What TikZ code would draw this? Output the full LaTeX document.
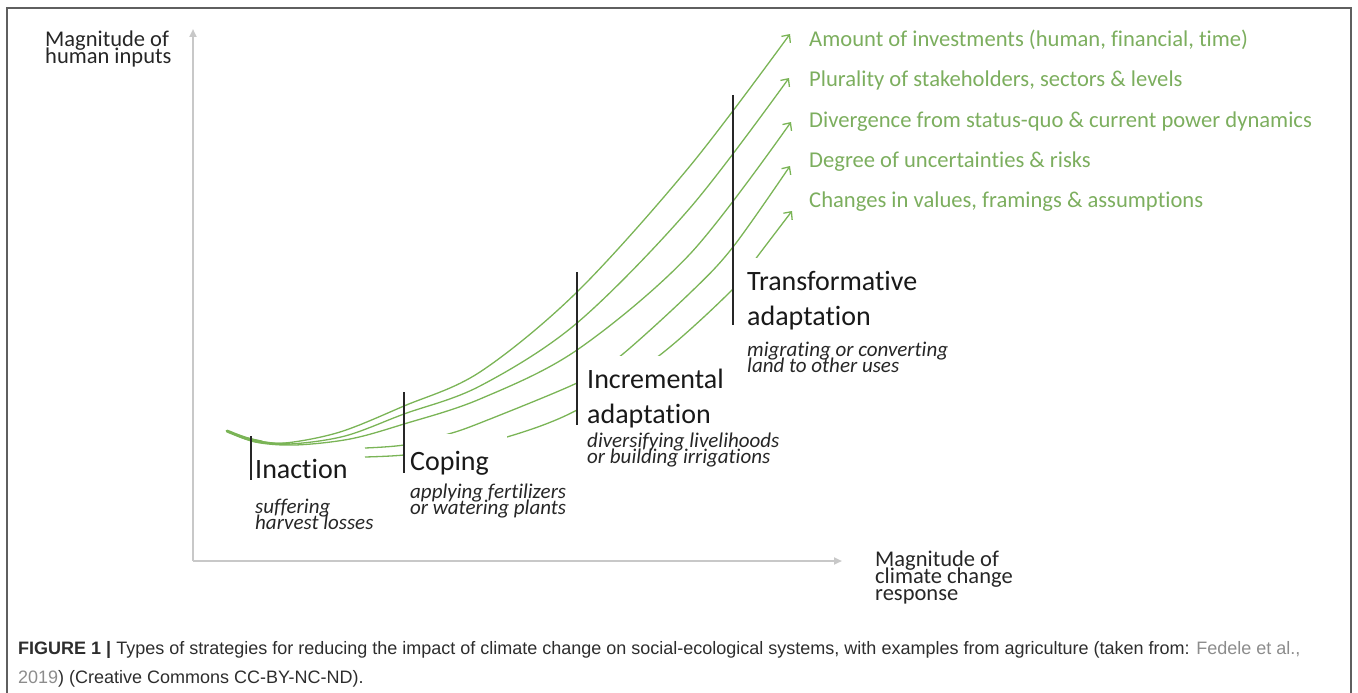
\documentclass[tikz,border=0pt]{standalone}
\usepackage{fontspec}
\setmainfont{Carlito}[Ligatures=NoCommon]
\newfontfamily\capfont{Liberation Sans}
\usetikzlibrary{arrows.meta}
\definecolor{grn}{RGB}{122,180,86}
\definecolor{grntxt}{RGB}{124,174,94}
\definecolor{axisgray}{RGB}{200,200,200}
\definecolor{framegray}{RGB}{95,95,95}
\definecolor{captxt}{RGB}{45,45,45}
\definecolor{caplink}{RGB}{140,140,140}
\begin{document}
\begin{tikzpicture}[x=1pt,y=-1pt,
  axis/.style={draw=axisgray,line width=2pt,-{Triangle[length=8pt,width=7pt]}},
  stagebar/.style={draw=black!85,line width=2pt},
  curve/.style={draw=grn,line width=1.3pt},
  arrowcurve/.style={curve,-{Straight Barb[length=6pt,width=11pt]}},
  stagetitle/.style={anchor=base west,inner sep=0pt,font=\fontsize{28}{34}\selectfont,text=black!90},
  example/.style={anchor=base west,inner sep=0pt,font=\fontsize{21}{16}\selectfont\itshape,text=black!85},
  axislabel/.style={anchor=base west,inner sep=0pt,font=\fontsize{22.5}{17}\selectfont,text=black!85},
  dimlabel/.style={anchor=base west,inner sep=0pt,font=\fontsize{22.6}{27}\selectfont,text=grntxt},
  caption/.style={anchor=base west,inner sep=0pt,font=\capfont\fontsize{18}{29}\selectfont,text=captxt},
  mask/.style={fill=white,draw=none}]
\useasboundingbox (0,0) rectangle (1358,693);
% frame
\draw[framegray,line width=1.5pt] (7,694) -- (7,8) -- (1351,8) -- (1351,694);
% axes
\coordinate (origin) at (193,561);
\coordinate (yend) at (193,29);
\coordinate (xend) at (842,561);
\draw[axis] (origin) -- (yend);
\draw[axis] (origin) -- (xend);
\node[axislabel] (ylab1) at (45,47) {Magnitude of};
\node[axislabel] (ylab2) at (45,64) {human inputs};
\node[axislabel] (xlab1) at (875,566) {Magnitude of};
\node[axislabel] (xlab2) at (875,583) {climate change};
\node[axislabel] (xlab3) at (875,600) {response};
% dimension labels
\node[dimlabel] (d1) at (809,47) {Amount of investments (human, financial, time)};
\node[dimlabel] (d2) at (809,87) {Plurality of stakeholders, sectors \& levels};
\node[dimlabel] (d3) at (809,127) {Divergence from status-quo \& current power dynamics};
\node[dimlabel] (d4) at (809,167) {Degree of uncertainties \& risks};
\node[dimlabel] (d5) at (809,207) {Changes in values, framings \& assumptions};
\coordinate (t1) at (790,34);
\coordinate (t2) at (789,78);
\coordinate (t3) at (791,122);
\coordinate (t4) at (790,166);
\coordinate (t5) at (792,211);
\coordinate (s0) at (227,431);
\coordinate (s4) at (365,448);
\coordinate (s5) at (365,457);
% green curves
\draw[curve,line width=3pt,line cap=round] plot[smooth,tension=0.55] coordinates {(s0) (245,438) (262,442)};
\draw[curve,line width=2pt] plot[smooth,tension=0.55] coordinates {(262,442) (275,443.5) (290,443.5)};
\draw[arrowcurve] plot[smooth,tension=0.55] coordinates {(s0) (255,440) (285,443) (340,432) (404,406) (480,372) (577,292) (690,166) (t1)};
\draw[arrowcurve] plot[smooth,tension=0.55] coordinates {(s0) (255,441) (290,444) (345,436) (404,414) (480,386) (577,323) (690,208) (t2)};
\draw[arrowcurve] plot[smooth,tension=0.55] coordinates {(s0) (255,442) (295,445) (350,439) (404,424) (480,399) (577,350) (690,254) (t3)};
\draw[arrowcurve] plot[smooth,tension=0.55] coordinates {(s4) (404,445) (445,435) (480,423) (577,383) (618,358) (690,293) (733,247) (t4)};
\draw[arrowcurve] plot[smooth,tension=0.55] coordinates {(s5) (404,455) (450,448) (507,437) (577,410) (660,355) (733,289) (757,257) (t5)};
% white text boxes hiding curve parts
\fill[mask] (405,434) rectangle (507,484);
\fill[mask] (578,356) rectangle (745,432);
\fill[mask] (734,258) rectangle (930,332);
% stage bars
\coordinate (b1t) at (251,436); \coordinate (b1b) at (251,480);
\coordinate (b2t) at (404,392); \coordinate (b2b) at (404,473);
\coordinate (b3t) at (577,272); \coordinate (b3b) at (577,425);
\coordinate (b4t) at (733,95);  \coordinate (b4b) at (733,325);
\draw[stagebar] (b1t) -- (b1b);
\draw[stagebar] (b2t) -- (b2b);
\draw[stagebar] (b3t) -- (b3b);
\draw[stagebar] (b4t) -- (b4b);
% stage titles and examples
\node[stagetitle] (inaction) at (255,478) {Inaction};
\node[example] (inex1) at (255,513) {suffering};
\node[example] (inex2) at (255,529) {harvest losses};
\node[stagetitle] (coping) at (410,470) {Coping};
\node[example] (coex1) at (410,498) {applying fertilizers};
\node[example] (coex2) at (410,514) {or watering plants};
\node[stagetitle] (incr1) at (587,388) {Incremental};
\node[stagetitle] (incr2) at (587,423) {adaptation};
\node[example] (icex1) at (587,447) {diversifying livelihoods};
\node[example] (icex2) at (587,463) {or building irrigations};
\node[stagetitle] (tran1) at (747,290) {Transformative};
\node[stagetitle] (tran2) at (747,325) {adaptation};
\node[example] (trex1) at (747,356) {migrating or converting};
\node[example] (trex2) at (747,372) {land to other uses};
% caption
\node[caption] (cap1) at (18,654) {\textbf{FIGURE 1 |} Types of strategies for reducing the impact of climate change on social-ecological systems, with examples from agriculture (taken from: \textcolor{caplink}{Fedele et al.,}};
\node[caption] (cap2) at (18,683) {\textcolor{caplink}{2019}) (Creative Commons CC-BY-NC-ND).};
\end{tikzpicture}
\end{document}
